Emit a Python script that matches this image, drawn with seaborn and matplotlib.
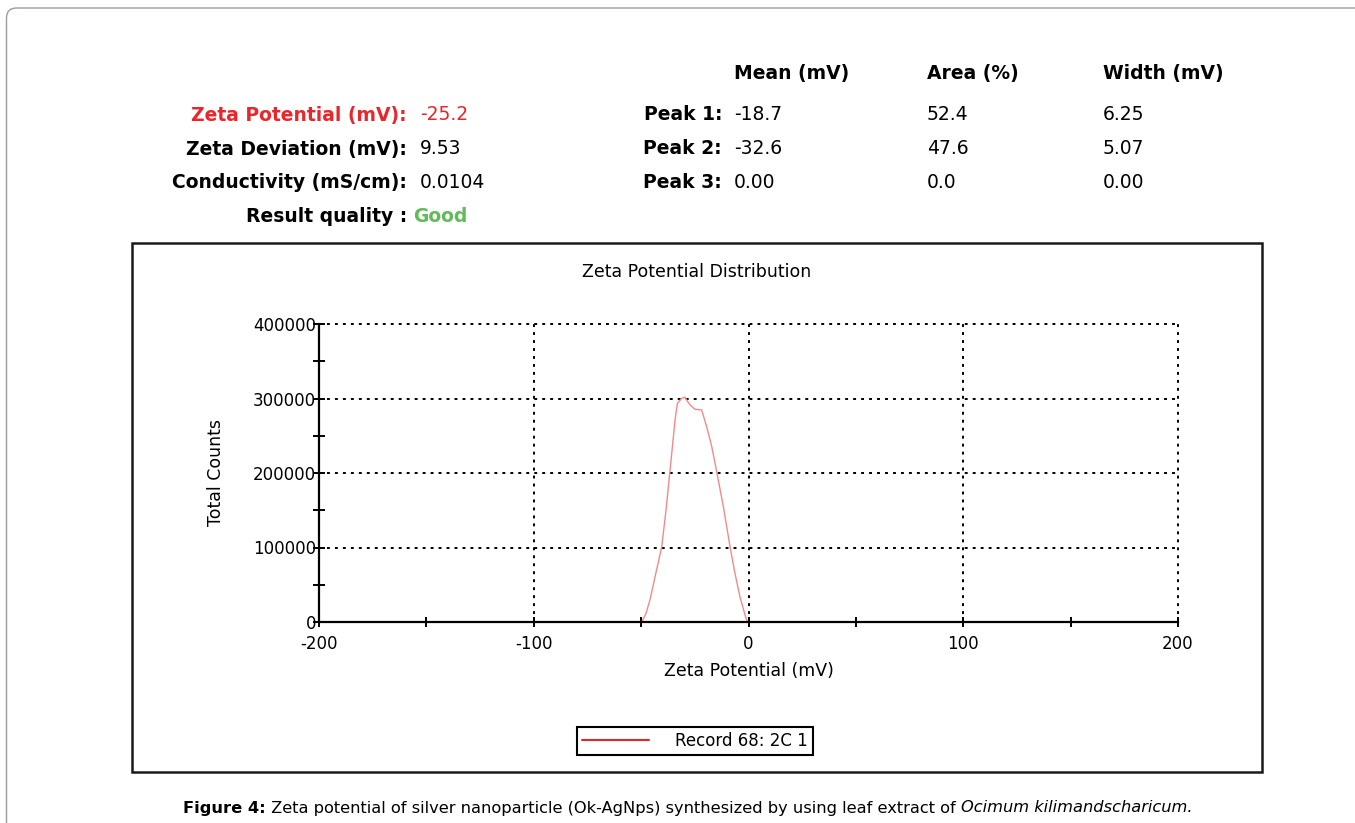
import matplotlib
matplotlib.use("Agg")
import matplotlib.pyplot as plt
import numpy as np
import pandas as pd
import seaborn as sns
from matplotlib.patches import Rectangle, FancyBboxPatch
from matplotlib.ticker import MultipleLocator, FuncFormatter

# ---------------- data ----------------
zeta_mv = [-200, -150, -100, -50, -49.7, -47.7, -45.9, -43.5, -40.4, -38.4, -36.6,
           -34.2, -33.1, -31.1, -29.6, -27.2, -24.9, -21.8, -19.5, -17.1, -14.8,
           -11.7, -8.6, -6.3, -4.0, -1.6, -0.6, 0, 50, 100, 150, 200]
total_counts = [0, 0, 0, 0, 0, 11700, 29500, 60800, 101000, 150300, 201700,
                271000, 293500, 300300, 301600, 291300, 285500, 284600, 262200, 235300, 201700,
                154800, 101000, 65400, 34000, 9400, 0, 0, 0, 0, 0, 0]

legend_label = "Record 68: 2C 1"

summary_labels = ["Zeta Potential (mV):", "Zeta Deviation (mV):", "Conductivity (mS/cm):"]
summary_values = ["-25.2", "9.53", "0.0104"]
quality_label = "Result quality :"
quality_value = "Good"

peak_headers = ["Mean (mV)", "Area (%)", "Width (mV)"]
peak_labels = ["Peak 1:", "Peak 2:", "Peak 3:"]
peak_mean = ["-18.7", "-32.6", "0.00"]
peak_area = ["52.4", "47.6", "0.0"]
peak_width = ["6.25", "5.07", "0.00"]

chart_title = "Zeta Potential Distribution"
x_label = "Zeta Potential (mV)"
y_label = "Total Counts"

caption_parts = [("Figure 4:", "bold", "normal"),
                 (" Zeta potential of silver nanoparticle (Ok-AgNps) synthesized by using leaf extract of ", "normal", "normal"),
                 ("Ocimum kilimandscharicum.", "normal", "italic")]

# ---------------- style ----------------
sns.set_theme(style="white")
plt.rcParams["font.family"] = ["DejaVu Sans"]
plt.rcParams["axes.unicode_minus"] = False
plt.rcParams["text.color"] = "black"

W, H = 1355, 823
fig = plt.figure(figsize=(W / 100, H / 100), dpi=100)
fig.patch.set_facecolor("white")

def fx(px):
    return px / W

def fy(py):
    return 1 - py / H

# outer rounded page frame (cropped at right / bottom)
fig.add_artist(FancyBboxPatch((0.065, -1.0), 16, 9.15,
                              boxstyle="round,pad=0,rounding_size=0.1",
                              transform=fig.dpi_scale_trans, fill=False,
                              edgecolor="#9c9c9c", linewidth=1.0))

# chart frame
fig.add_artist(Rectangle((fx(132), fy(772)), 1130 / W, 529 / H,
                         transform=fig.transFigure, fill=False,
                         edgecolor="#1a1a1a", linewidth=1.8))

# ---------------- axes ----------------
ax = fig.add_axes([fx(319), fy(622), 859 / W, 298 / H])
df = pd.DataFrame({"zeta": zeta_mv, "counts": total_counts})
sns.lineplot(data=df, x="zeta", y="counts", ax=ax, color="#f28a8a",
             linewidth=1.0, estimator=None, sort=False, label=legend_label)
if ax.get_legend() is not None:
    ax.get_legend().remove()

ax.set_xlim(-200, 200)
ax.set_ylim(0, 400000)
ax.xaxis.set_major_locator(MultipleLocator(100))
ax.xaxis.set_minor_locator(MultipleLocator(50))
ax.yaxis.set_major_locator(MultipleLocator(100000))
ax.yaxis.set_minor_locator(MultipleLocator(50000))
ax.yaxis.set_major_formatter(FuncFormatter(lambda v, p: f"{int(round(v))}"))
ax.xaxis.set_major_formatter(FuncFormatter(lambda v, p: f"{int(round(v))}"))

ax.grid(True, which="major", color="black", linestyle=(0, (1.5, 2.6)), linewidth=1.4)
ax.set_axisbelow(True)
for gl in ax.get_xgridlines() + ax.get_ygridlines():
    gl.set_clip_on(False)

for s in ["top", "right"]:
    ax.spines[s].set_visible(False)
for s in ["left", "bottom"]:
    ax.spines[s].set_color("black")
    ax.spines[s].set_linewidth(1.6)

ax.tick_params(axis="both", which="both", direction="inout", color="black",
               width=1.4, labelsize=12, labelcolor="black")
ax.tick_params(axis="y", which="both", length=8, pad=-2)
ax.tick_params(axis="x", which="both", length=6.5, pad=6)
ax.tick_params(which="both", bottom=True, left=True)

ax.set_xlabel(x_label, fontsize=12.5, color="black")
ax.set_ylabel(y_label, fontsize=12.5, color="black")
ax.xaxis.set_label_coords(0.5, -0.134)
ax.yaxis.set_label_coords(-0.11, 0.5)

fig.text(fx(697), fy(272), chart_title, ha="center", va="center", fontsize=12.5, color="black")

# legend
handles, labels = ax.get_legend_handles_labels()
leg = fig.legend(handles, labels, loc="center", bbox_to_anchor=(fx(695), fy(741)),
                 frameon=True, fancybox=False, framealpha=1, edgecolor="black",
                 fontsize=12, handlelength=4.0, handletextpad=1.6, borderpad=0.3,
                 borderaxespad=0, labelcolor="black")
leg.get_frame().set_linewidth(1.5)
for ln in leg.get_lines():
    ln.set_linewidth(1.5)
    ln.set_color("#e02828")

# ---------------- header summary ----------------
red = "#e8262b"
green = "#62bb5a"
hsize = 13.5
row_y = [115, 149, 183]
for i, (lab, val) in enumerate(zip(summary_labels, summary_values)):
    c = red if i == 0 else "black"
    fig.text(fx(407), fy(row_y[i]), lab, ha="right", va="center", fontsize=hsize,
             fontweight="bold", color=c)
    fig.text(fx(420), fy(row_y[i]), val, ha="left", va="center", fontsize=hsize, color=c)
fig.text(fx(407), fy(217), quality_label, ha="right", va="center", fontsize=hsize,
         fontweight="bold", color="black")
fig.text(fx(413), fy(217), quality_value, ha="left", va="center", fontsize=hsize,
         fontweight="bold", color=green)

col_x = [734, 927, 1103]
header_y = 74
for hx, htxt in zip(col_x, peak_headers):
    fig.text(fx(hx), fy(header_y), htxt, ha="left", va="center", fontsize=hsize,
             fontweight="bold", color="black")
for i, lab in enumerate(peak_labels):
    fig.text(fx(722), fy(row_y[i]), lab, ha="right", va="center", fontsize=hsize,
             fontweight="bold", color="black")
    for cx, col in zip(col_x, [peak_mean, peak_area, peak_width]):
        fig.text(fx(cx), fy(row_y[i]), col[i], ha="left", va="center", fontsize=hsize,
                 color="black")

# ---------------- caption ----------------
fig.canvas.draw()
renderer = fig.canvas.get_renderer()
base_size = 12
cap_y = fy(808)
texts = []
widths = []
for txt, wt, st in caption_parts:
    t = fig.text(0, cap_y, txt, ha="left", va="center", fontsize=base_size,
                 fontweight=wt, fontstyle=st, color="black")
    texts.append(t)
fig.canvas.draw()
for t in texts:
    widths.append(t.get_window_extent(renderer).width)
target = 1188 - 183
scale = target / sum(widths)
size = base_size * scale
for t in texts:
    t.set_fontsize(size)
fig.canvas.draw()
x = 183.0
for t in texts:
    t.set_x(fx(x))
    x += t.get_window_extent(renderer).width

fig.savefig("out.png", dpi=100, facecolor="white")
